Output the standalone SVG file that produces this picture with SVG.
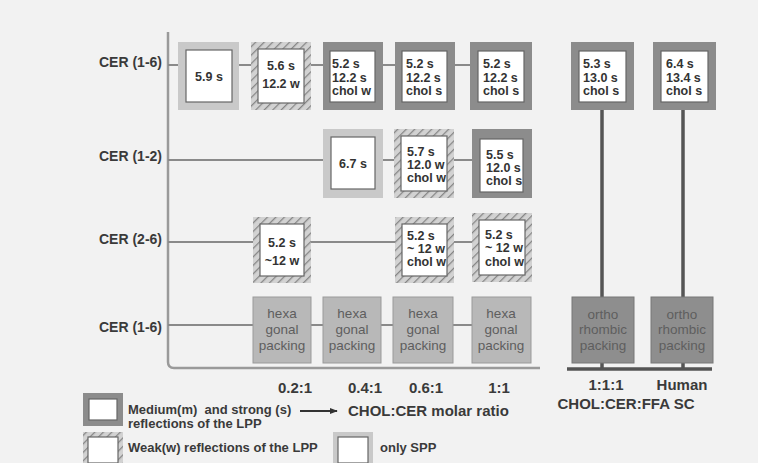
<svg xmlns="http://www.w3.org/2000/svg" width="758" height="463" viewBox="0 0 758 463">
<defs>
<pattern id="hatch" patternUnits="userSpaceOnUse" width="6" height="6" patternTransform="rotate(45)">
<rect width="6" height="6" fill="#d2d2d2"/>
<line x1="0" y1="0" x2="0" y2="6" stroke="#858585" stroke-width="2.5"/>
</pattern>
<marker id="arr" viewBox="0 0 10 10" refX="9" refY="5" markerWidth="8" markerHeight="8" markerUnits="userSpaceOnUse" orient="auto">
<path d="M0,1 L10,5 L0,9 z" fill="#333"/>
</marker>
</defs>
<style>
.bg{fill:#f2f2f2}
.strong{fill:#8c8c8c}
.hat{fill:url(#hatch)}
.spp{fill:#c9c9c9}
.inner{fill:#fff;stroke:#666;stroke-width:1.2}
.hexa{fill:#b8b8b8;stroke:#9a9a9a;stroke-width:1}
.ortho{fill:#8e8e8e;stroke:#777;stroke-width:1}
.bt{font-family:"Liberation Sans",Arial,sans-serif;font-weight:bold;font-size:12.5px;fill:#333}
.pt{font-family:"Liberation Sans",Arial,sans-serif;font-size:13.5px;fill:#5e5e5e;text-anchor:middle}
.lab{font-family:"Liberation Sans",Arial,sans-serif;font-weight:bold;font-size:14px;fill:#3a3a3a;text-anchor:end}
.ax{font-family:"Liberation Sans",Arial,sans-serif;font-weight:bold;font-size:15px;fill:#3a3a3a;text-anchor:middle}
.leg{font-family:"Liberation Sans",Arial,sans-serif;font-weight:bold;font-size:13px;fill:#3a3a3a}
.c{fill:none;stroke:#8a8a8a;stroke-width:2}
.axis{fill:none;stroke:#9a9a9a;stroke-width:2.5}
.dk{fill:none;stroke:#555;stroke-width:3.5}
.mid{text-anchor:middle}
</style>
<rect class="bg" x="0" y="0" width="758" height="463"/>

<g id="connectors">
<path class="axis" d="M168,32 V362 Q168,368 174,368 H540"/>
<path class="c" d="M168,65 H178 M239,65 H251 M311,65 H323 M383,65 H395 M455,65 H470"/>
<path class="c" d="M168,160 H323 M383,160 H394 M454,160 H472"/>
<path class="c" d="M168,242 H253 M311,242 H395 M454,242 H472"/>
<path class="c" d="M168,325 H253 M311,325 H323 M381,325 H393 M453,325 H472"/>
<path class="dk" d="M602,110 V297 M683,110 V297 M602,363 V369 M683,363 V369"/>
<path class="dk" d="M567,369 H712"/>
<line x1="300" y1="411" x2="337" y2="411" stroke="#333" stroke-width="1.8" marker-end="url(#arr)"/>
</g>

<g id="labels">
<text class="lab" x="162" y="67">CER (1-6)</text>
<text class="lab" x="162" y="161">CER (1-2)</text>
<text class="lab" x="162" y="244">CER (2-6)</text>
<text class="lab" x="162" y="332">CER (1-6)</text>
<text class="ax" x="295" y="393">0.2:1</text>
<text class="ax" x="365" y="393">0.4:1</text>
<text class="ax" x="426" y="393">0.6:1</text>
<text class="ax" x="499" y="393">1:1</text>
<text class="ax" x="606" y="390">1:1:1</text>
<text class="ax" x="682" y="390">Human</text>
<text class="ax" x="626" y="409">CHOL:CER:FFA SC</text>
</g>

<!-- Row 1 -->
<g id="r1b1"><rect class="spp" x="178" y="42" width="61" height="68"/><rect class="inner" x="186" y="50" width="46" height="52"/><text class="bt mid" x="209" y="81">5.9 s</text></g>
<g id="r1b2"><rect class="hat" x="251" y="42" width="60" height="68"/><rect class="inner" x="258" y="49" width="46" height="54"/><text class="bt mid" x="281" y="70">5.6 s</text><text class="bt mid" x="281" y="88">12.2 w</text></g>
<g id="r1b3"><rect class="strong" x="323" y="42" width="60" height="68"/><rect class="inner" x="330" y="51" width="45" height="51"/><text class="bt" x="332" y="68">5.2 s</text><text class="bt" x="332" y="82">12.2 s</text><text class="bt" x="332" y="95">chol w</text></g>
<g id="r1b4"><rect class="strong" x="395" y="42" width="60" height="68"/><rect class="inner" x="402" y="51" width="45" height="51"/><text class="bt" x="406" y="68">5.2 s</text><text class="bt" x="406" y="82">12.2 s</text><text class="bt" x="406" y="95">chol s</text></g>
<g id="r1b5"><rect class="strong" x="470" y="42" width="62" height="68"/><rect class="inner" x="478" y="51" width="46" height="51"/><text class="bt" x="483" y="68">5.2 s</text><text class="bt" x="483" y="82">12.2 s</text><text class="bt" x="483" y="95">chol s</text></g>
<g id="r1b6"><rect class="strong" x="571" y="42" width="63" height="68"/><rect class="inner" x="579" y="51" width="47" height="51"/><text class="bt" x="583" y="68">5.3 s</text><text class="bt" x="583" y="82">13.0 s</text><text class="bt" x="583" y="95">chol s</text></g>
<g id="r1b7"><rect class="strong" x="653" y="42" width="63" height="68"/><rect class="inner" x="661" y="51" width="47" height="51"/><text class="bt" x="666" y="68">6.4 s</text><text class="bt" x="666" y="82">13.4 s</text><text class="bt" x="666" y="95">chol s</text></g>

<!-- Row 2 -->
<g id="r2b1"><rect class="spp" x="323" y="129" width="60" height="69"/><rect class="inner" x="331" y="137" width="44" height="52"/><text class="bt mid" x="353" y="168">6.7 s</text></g>
<g id="r2b2"><rect class="hat" x="394" y="129" width="60" height="69"/><rect class="inner" x="401" y="136" width="46" height="55"/><text class="bt" x="407" y="156">5.7 s</text><text class="bt" x="407" y="169">12.0 w</text><text class="bt" x="407" y="182">chol w</text></g>
<g id="r2b3"><rect class="strong" x="472" y="129" width="60" height="69"/><rect class="inner" x="480" y="139" width="43" height="53"/><text class="bt" x="486" y="159">5.5 s</text><text class="bt" x="486" y="172">12.0 s</text><text class="bt" x="486" y="185">chol s</text></g>

<!-- Row 3 -->
<g id="r3b1"><rect class="hat" x="253" y="217" width="58" height="66"/><rect class="inner" x="260" y="224" width="44" height="52"/><text class="bt mid" x="282" y="247">5.2 s</text><text class="bt mid" x="282" y="265">~12 w</text></g>
<g id="r3b2"><rect class="hat" x="395" y="217" width="59" height="66"/><rect class="inner" x="402" y="224" width="45" height="52"/><text class="bt" x="407" y="240">5.2 s</text><text class="bt" x="407" y="253">~ 12 w</text><text class="bt" x="407" y="266">chol w</text></g>
<g id="r3b3"><rect class="hat" x="472" y="213" width="60" height="69"/><rect class="inner" x="479" y="220" width="46" height="55"/><text class="bt" x="485" y="239">5.2 s</text><text class="bt" x="485" y="252">~ 12 w</text><text class="bt" x="485" y="266">chol w</text></g>

<!-- Row 4 -->
<g id="r4b1"><rect class="hexa" x="253" y="297" width="58" height="66"/><text class="pt" x="282" y="318">hexa</text><text class="pt" x="282" y="334">gonal</text><text class="pt" x="282" y="350">packing</text></g>
<g id="r4b2"><rect class="hexa" x="323" y="297" width="58" height="66"/><text class="pt" x="352" y="318">hexa</text><text class="pt" x="352" y="334">gonal</text><text class="pt" x="352" y="350">packing</text></g>
<g id="r4b3"><rect class="hexa" x="393" y="297" width="60" height="66"/><text class="pt" x="423" y="318">hexa</text><text class="pt" x="423" y="334">gonal</text><text class="pt" x="423" y="350">packing</text></g>
<g id="r4b4"><rect class="hexa" x="472" y="297" width="59" height="66"/><text class="pt" x="501" y="318">hexa</text><text class="pt" x="501" y="334">gonal</text><text class="pt" x="501" y="350">packing</text></g>
<g id="r4b5"><rect class="ortho" x="572" y="297" width="62" height="66"/><text class="pt" x="603" y="319">ortho</text><text class="pt" x="603" y="334">rhombic</text><text class="pt" x="603" y="350">packing</text></g>
<g id="r4b6"><rect class="ortho" x="651" y="297" width="62" height="66"/><text class="pt" x="682" y="319">ortho</text><text class="pt" x="682" y="334">rhombic</text><text class="pt" x="682" y="350">packing</text></g>

<!-- Legend -->
<g id="legend-strong"><rect class="strong" x="83" y="393" width="40" height="33"/><rect class="inner" x="89" y="399" width="28" height="21"/>
<text class="leg" x="128" y="414">Medium(m)&#160; and strong (s)</text><text class="leg" x="128" y="428">reflections of the LPP</text></g>
<g id="legend-ratio"><text class="leg" x="348" y="416" style="font-size:15px">CHOL:CER molar ratio</text></g>
<g id="legend-weak"><rect class="hat" x="83" y="432" width="40" height="34"/><rect class="inner" x="88" y="437" width="30" height="26"/>
<text class="leg" x="128" y="452">Weak(w) reflections of the LPP</text></g>
<g id="legend-spp"><rect class="spp" x="333" y="432" width="40" height="34"/><rect class="inner" x="338" y="437" width="30" height="26"/>
<text class="leg" x="380" y="452">only SPP</text></g>
</svg>
